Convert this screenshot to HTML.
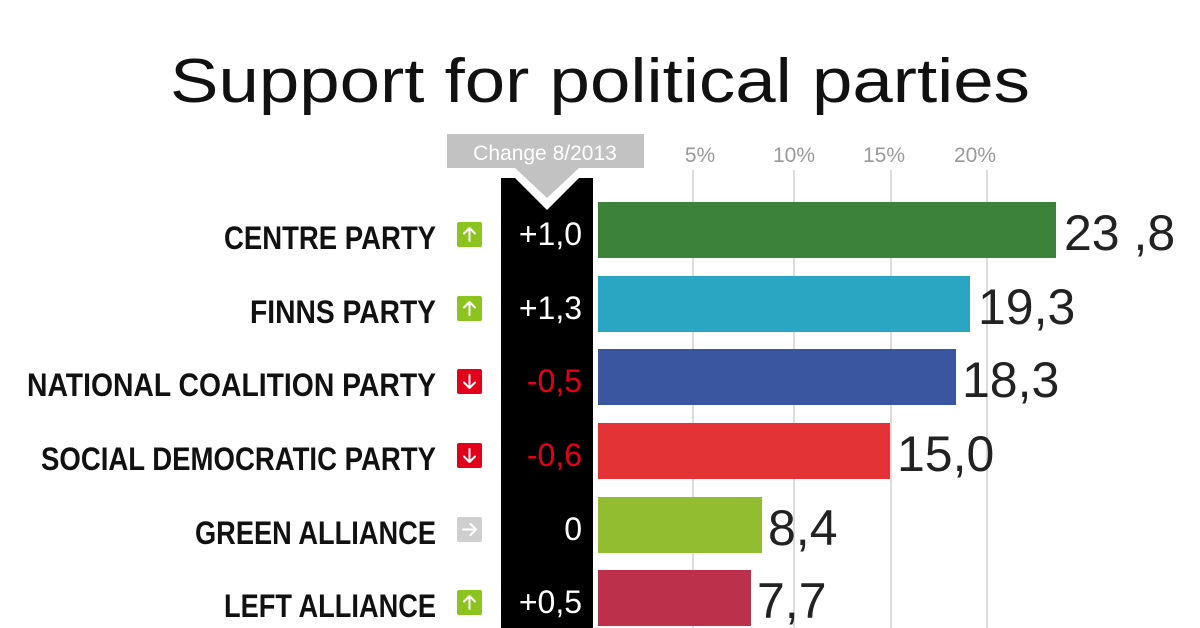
<!DOCTYPE html>
<html><head><meta charset="utf-8"><style>html,body{margin:0;padding:0;background:#fff}svg{display:block}</style></head>
<body>
<svg width="1200" height="628" viewBox="0 0 1200 628" xmlns="http://www.w3.org/2000/svg" font-family="Liberation Sans, DejaVu Sans, sans-serif">
<text x="600" y="102" text-anchor="middle" font-size="62" fill="#111" textLength="860" lengthAdjust="spacingAndGlyphs" font-weight="normal">Support for political parties</text>
<g stroke="#dcdcdc" stroke-width="2">
<line x1="693" y1="170" x2="693" y2="628"/><line x1="794" y1="170" x2="794" y2="628"/><line x1="891" y1="170" x2="891" y2="628"/><line x1="987" y1="170" x2="987" y2="628"/>
</g>
<g font-size="21" fill="#999" text-anchor="middle">
<text x="700" y="162">5%</text><text x="794" y="162">10%</text><text x="884" y="162">15%</text><text x="975" y="162">20%</text>
</g>
<rect x="447" y="134" width="197" height="34" fill="#c2c2c2"/>
<polygon points="515,168 579,168 547,198" fill="#c2c2c2"/>
<text x="545" y="160" text-anchor="middle" font-size="21" fill="#fff">Change 8/2013</text>
<polygon points="501,178 515,178 547,210 579,178 593,178 593,628 501,628" fill="#000"/>
<g>
<rect x="598" y="202" width="458" height="56" fill="#3d823a"/>
<rect x="598" y="276" width="372" height="56" fill="#2aa6c3"/>
<rect x="598" y="349" width="358" height="56" fill="#3a56a0"/>
<rect x="598" y="423" width="292" height="56" fill="#e33336"/>
<rect x="598" y="497" width="164" height="56" fill="#93bd31"/>
<rect x="598" y="570" width="153" height="56" fill="#bc304c"/>
</g>
<g font-size="50" fill="#222">
<text x="1064" y="250">23 ,8</text>
<text x="978" y="324">19,3</text>
<text x="962" y="397">18,3</text>
<text x="897" y="471">15,0</text>
<text x="768" y="545">8,4</text>
<text x="757" y="618">7,7</text>
</g>
<g font-size="32" font-weight="bold" fill="#111" text-anchor="end">
<text x="436" y="249" textLength="212" lengthAdjust="spacingAndGlyphs">CENTRE PARTY</text>
<text x="436" y="323" textLength="186" lengthAdjust="spacingAndGlyphs">FINNS PARTY</text>
<text x="436" y="396" textLength="409" lengthAdjust="spacingAndGlyphs">NATIONAL COALITION PARTY</text>
<text x="436" y="470" textLength="395" lengthAdjust="spacingAndGlyphs">SOCIAL DEMOCRATIC PARTY</text>
<text x="436" y="544" textLength="241" lengthAdjust="spacingAndGlyphs">GREEN ALLIANCE</text>
<text x="436" y="617" textLength="212" lengthAdjust="spacingAndGlyphs">LEFT ALLIANCE</text>
</g>
<g>
<rect x="457" y="222" width="25" height="25" rx="2" fill="#8cc31e"/>
<rect x="457" y="296" width="25" height="25" rx="2" fill="#8cc31e"/>
<rect x="457" y="369" width="25" height="25" rx="2" fill="#e3001b"/>
<rect x="457" y="443" width="25" height="25" rx="2" fill="#e3001b"/>
<rect x="457" y="517" width="25" height="25" rx="2" fill="#cfcfcf"/>
<rect x="457" y="590" width="25" height="25" rx="2" fill="#8cc31e"/>
</g>
<g stroke="#fff" stroke-width="2" fill="none" stroke-linecap="round" stroke-linejoin="round">
<path d="M469.5 241V228M464 233.5L469.5 228L475 233.5"/>
<path d="M469.5 315V302M464 307.5L469.5 302L475 307.5"/>
<path d="M469.5 375V388M464 382.5L469.5 388L475 382.5"/>
<path d="M469.5 449V462M464 456.5L469.5 462L475 456.5"/>
<path d="M463 529.5H476M470.5 524L476 529.5L470.5 535"/>
<path d="M469.5 609V596M464 601.5L469.5 596L475 601.5"/>
</g>
<g font-size="32" text-anchor="end">
<text x="582" y="245" fill="#fff">+1,0</text>
<text x="582" y="319" fill="#fff">+1,3</text>
<text x="582" y="392" fill="#e3001b">-0,5</text>
<text x="582" y="466" fill="#e3001b">-0,6</text>
<text x="582" y="540" fill="#fff">0</text>
<text x="582" y="613" fill="#fff">+0,5</text>
</g>
</svg>
</body></html>
